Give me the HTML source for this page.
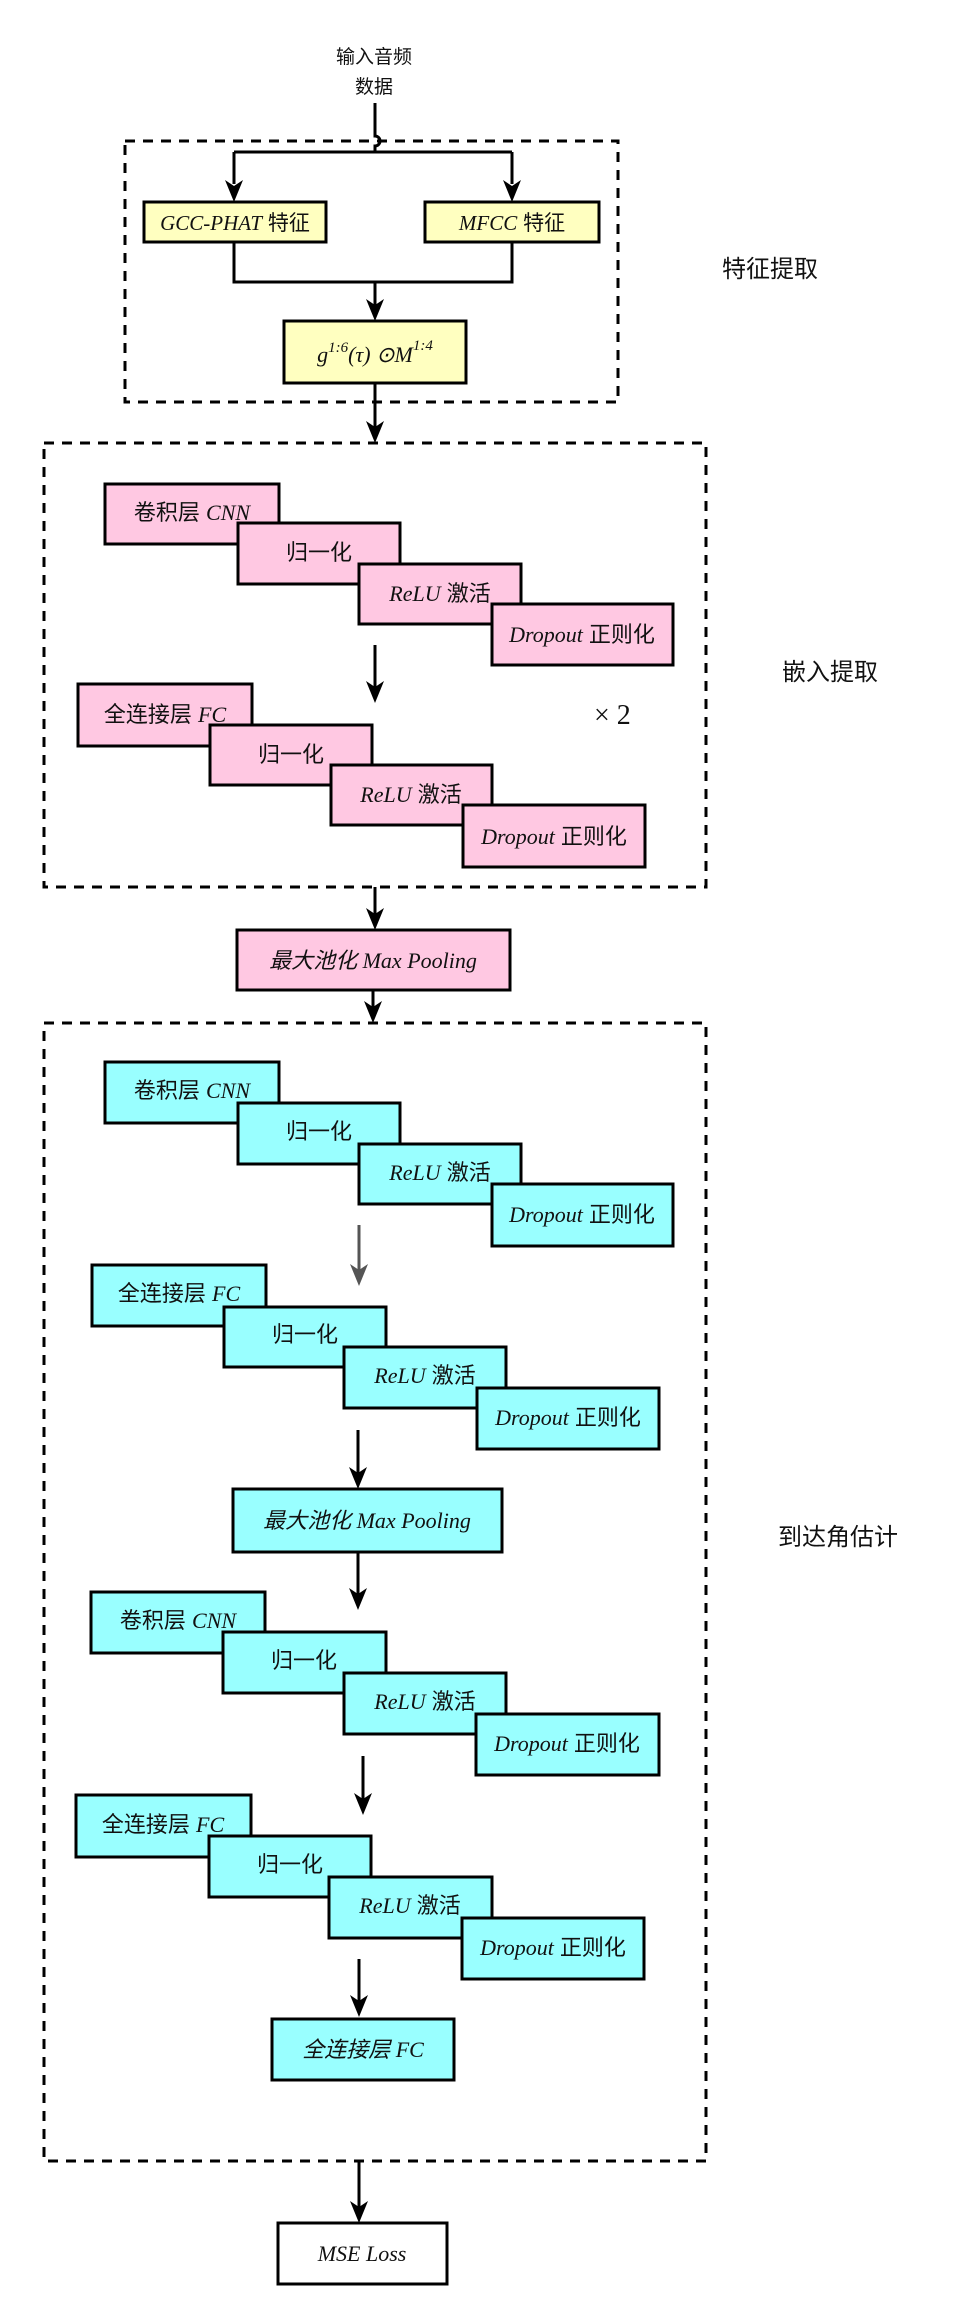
<!DOCTYPE html>
<html><head><meta charset="utf-8"><style>
html,body{margin:0;padding:0;background:#fff;}
svg{display:block;}
text{font-family:"Liberation Serif","Noto Sans CJK SC",serif;fill:#111;}
.c{font-family:"Liberation Sans","Noto Sans CJK SC",sans-serif;font-style:normal;}
.i{font-family:"Liberation Serif",serif;font-style:italic;}
</style></head><body>
<svg width="976" height="2304" viewBox="0 0 976 2304" xmlns="http://www.w3.org/2000/svg">
<defs>
<g id="ah"><polygon points="0,0 -9,-22 0,-16 9,-22" fill="#000"/></g>
</defs>
<g stroke="#000" stroke-width="3" fill="none">
<!-- dashed boxes -->
<rect x="125" y="141" width="493" height="261" stroke-dasharray="10 8"/>
<rect x="44" y="443" width="662" height="444" stroke-dasharray="10 8"/>
<rect x="44" y="1023" width="662" height="1138" stroke-dasharray="10 8"/>
<!-- input line with hop -->
<path d="M375 103 V136 A5 5 0 0 1 375 146 V152"/>
<path d="M234 152 H512 M234 152 V184 M512 152 V184"/>
<path d="M234 242 V282 H512 V242 M375 282 V305"/>
<path d="M375 383 V427"/>
<path d="M375 645 V687"/>
<path d="M375 887 V914"/>
<path d="M373 990 V1015"/>
<path d="M358 1430 V1473"/>
<path d="M358 1552 V1594"/>
<path d="M363 1756 V1799"/>
<path d="M359 1959 V2001"/>
<path d="M359 2161 V2207"/>
</g>
<path d="M359 1225 V1270" stroke="#555" stroke-width="3"/>
<g fill="#000">
<use href="#ah" x="234" y="202"/><use href="#ah" x="512" y="202"/>
<use href="#ah" x="375" y="321"/><use href="#ah" x="375" y="443"/>
<use href="#ah" x="375" y="703"/><use href="#ah" x="375" y="930"/>
<use href="#ah" x="373" y="1023"/>
<use href="#ah" x="358" y="1489"/><use href="#ah" x="358" y="1610"/>
<use href="#ah" x="363" y="1815"/><use href="#ah" x="359" y="2017"/>
<use href="#ah" x="359" y="2223"/>
</g>
<polygon points="359,1286 350,1264 359,1270 368,1264" fill="#555"/>

<text x="374" y="63" text-anchor="middle" class="c" font-size="19">输入音频</text>
<text x="374" y="93" text-anchor="middle" class="c" font-size="19">数据</text>

<g stroke="#000" stroke-width="3" fill="#ffffc0">
<rect x="144" y="202" width="182" height="40"/>
<rect x="425" y="202" width="174" height="40"/>
<rect x="284" y="321" width="182" height="62"/>
</g>
<text x="235" y="230" text-anchor="middle" font-size="21"><tspan class="i">GCC-PHAT</tspan><tspan class="c"> 特征</tspan></text>
<text x="512" y="230" text-anchor="middle" font-size="21"><tspan class="i">MFCC</tspan><tspan class="c"> 特征</tspan></text>
<text x="375" y="362" text-anchor="middle" font-size="22" class="i">g<tspan font-size="15" dy="-10">1:6</tspan><tspan dy="10">(τ) ⊙M</tspan><tspan font-size="15" dy="-12">1:4</tspan></text>
<text x="722" y="277" class="c" font-size="24">特征提取</text>
<text x="782" y="680" class="c" font-size="24">嵌入提取</text>
<text x="778" y="1545" class="c" font-size="24">到达角估计</text>
<text x="594" y="724" font-size="28" class="c" style="font-family:'Liberation Serif',serif">× 2</text>

<!-- pink group 1 -->
<g stroke="#000" stroke-width="3" fill="#ffc8e2">
<rect x="105" y="484" width="174" height="60"/>
<rect x="238" y="523" width="162" height="61"/>
<rect x="359" y="564" width="162" height="60"/>
<rect x="492" y="604" width="181" height="61"/>
<rect x="78" y="684" width="174" height="62"/>
<rect x="210" y="725" width="162" height="60"/>
<rect x="331" y="765" width="161" height="60"/>
<rect x="463" y="805" width="182" height="62"/>
<rect x="237" y="930" width="273" height="60"/>
</g>
<g font-size="22" text-anchor="middle">
<text x="192" y="520"><tspan class="c">卷积层 </tspan><tspan class="i">CNN</tspan></text>
<text x="319" y="560" class="c">归一化</text>
<text x="440" y="601"><tspan class="i">ReLU</tspan><tspan class="c"> 激活</tspan></text>
<text x="582" y="642"><tspan class="i">Dropout</tspan><tspan class="c"> 正则化</tspan></text>
<text x="165" y="722"><tspan class="c">全连接层 </tspan><tspan class="i">FC</tspan></text>
<text x="291" y="762" class="c">归一化</text>
<text x="411" y="802"><tspan class="i">ReLU</tspan><tspan class="c"> 激活</tspan></text>
<text x="554" y="844"><tspan class="i">Dropout</tspan><tspan class="c"> 正则化</tspan></text>
<text x="373" y="968" class="i"><tspan>最大池化 Max Pooling</tspan></text>
</g>

<!-- cyan -->
<g stroke="#000" stroke-width="3" fill="#99ffff">
<rect x="105" y="1062" width="174" height="61"/>
<rect x="238" y="1103" width="162" height="61"/>
<rect x="359" y="1144" width="162" height="60"/>
<rect x="492" y="1184" width="181" height="62"/>
<rect x="92" y="1265" width="174" height="61"/>
<rect x="224" y="1307" width="162" height="60"/>
<rect x="344" y="1347" width="162" height="61"/>
<rect x="477" y="1388" width="182" height="61"/>
<rect x="233" y="1489" width="269" height="63"/>
<rect x="91" y="1592" width="174" height="61"/>
<rect x="223" y="1632" width="163" height="61"/>
<rect x="344" y="1673" width="162" height="61"/>
<rect x="476" y="1714" width="183" height="61"/>
<rect x="76" y="1795" width="175" height="62"/>
<rect x="209" y="1836" width="162" height="61"/>
<rect x="329" y="1877" width="163" height="61"/>
<rect x="462" y="1918" width="182" height="61"/>
<rect x="272" y="2019" width="182" height="61"/>
</g>
<rect x="278" y="2223" width="169" height="61" stroke="#000" stroke-width="3" fill="#fff"/>
<g font-size="22" text-anchor="middle">
<text x="192" y="1098"><tspan class="c">卷积层 </tspan><tspan class="i">CNN</tspan></text>
<text x="319" y="1139" class="c">归一化</text>
<text x="440" y="1180"><tspan class="i">ReLU</tspan><tspan class="c"> 激活</tspan></text>
<text x="582" y="1222"><tspan class="i">Dropout</tspan><tspan class="c"> 正则化</tspan></text>
<text x="179" y="1301"><tspan class="c">全连接层 </tspan><tspan class="i">FC</tspan></text>
<text x="305" y="1342" class="c">归一化</text>
<text x="425" y="1383"><tspan class="i">ReLU</tspan><tspan class="c"> 激活</tspan></text>
<text x="568" y="1425"><tspan class="i">Dropout</tspan><tspan class="c"> 正则化</tspan></text>
<text x="367" y="1528" class="i">最大池化 Max Pooling</text>
<text x="178" y="1628"><tspan class="c">卷积层 </tspan><tspan class="i">CNN</tspan></text>
<text x="304" y="1668" class="c">归一化</text>
<text x="425" y="1709"><tspan class="i">ReLU</tspan><tspan class="c"> 激活</tspan></text>
<text x="567" y="1751"><tspan class="i">Dropout</tspan><tspan class="c"> 正则化</tspan></text>
<text x="163" y="1832"><tspan class="c">全连接层 </tspan><tspan class="i">FC</tspan></text>
<text x="290" y="1872" class="c">归一化</text>
<text x="410" y="1913"><tspan class="i">ReLU</tspan><tspan class="c"> 激活</tspan></text>
<text x="553" y="1955"><tspan class="i">Dropout</tspan><tspan class="c"> 正则化</tspan></text>
<text x="363" y="2057" class="i">全连接层 FC</text>
<text x="362" y="2261" class="i">MSE Loss</text>
</g>
</svg>
</body></html>
